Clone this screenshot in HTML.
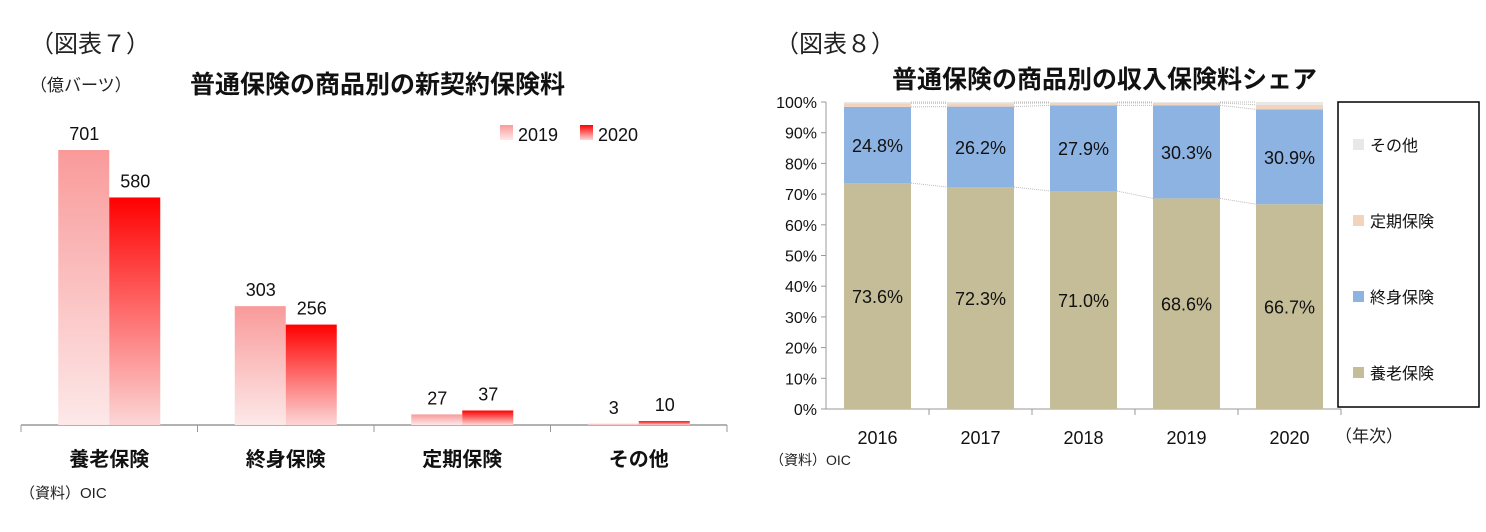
<!DOCTYPE html>
<html><head><meta charset="utf-8"><style>
body{margin:0;background:#fff;width:1486px;height:527px;overflow:hidden;font-family:"Liberation Sans","Noto Sans CJK JP",sans-serif;}
svg text{font-family:"Liberation Sans","Noto Sans CJK JP",sans-serif;}
</style></head><body>
<svg width="1486" height="527">
<defs>
<linearGradient id="g19" x1="0" y1="1" x2="0" y2="0"><stop offset="0" stop-color="#fde8e8"/><stop offset="1" stop-color="#f99a9a"/></linearGradient>
<linearGradient id="g20" x1="0" y1="1" x2="0" y2="0"><stop offset="0" stop-color="#fcd6d6"/><stop offset="1" stop-color="#ff0000"/></linearGradient>
</defs>
<g id="c1">
<text x="30" y="52" font-size="24" fill="#222" font-family="Liberation Serif,Noto Serif CJK SC,serif">（図表７）</text>
<text x="30" y="91" font-size="17" fill="#222">（億バーツ）</text>
<text x="190" y="93" font-size="25" font-weight="bold" fill="#111">普通保険の商品別の新契約保険料</text>
<rect x="500" y="125" width="13" height="15" fill="url(#g19)"/>
<text x="518" y="141" font-size="18" fill="#111">2019</text>
<rect x="580" y="125" width="13" height="15" fill="url(#g20)"/>
<text x="598" y="141" font-size="18" fill="#111">2020</text>
<text x="20" y="498" font-size="15" fill="#222">（資料）OIC</text>
</g>
<g id="c2">
<text x="775" y="52" font-size="24" fill="#222" font-family="Liberation Serif,Noto Serif CJK SC,serif">（図表８）</text>
<text x="892" y="88" font-size="25" font-weight="bold" fill="#111">普通保険の商品別の収入保険料シェア</text>
<text x="1335" y="442" font-size="17" fill="#222">（年次）</text>
<text x="770" y="465" font-size="14" fill="#222">（資料）OIC</text>
<rect x="1338" y="102" width="141" height="305" fill="#fff" stroke="#000" stroke-width="1.5"/>
</g>
</svg>
<script>
const ns="http://www.w3.org/2000/svg";
function mk(p,t,a,txt){const e=document.createElementNS(ns,t);for(const k in a)e.setAttribute(k,a[k]);if(txt!==undefined)e.textContent=txt;document.getElementById(p).appendChild(e);return e;}
// Chart 7 data
const cats7=["養老保険","終身保険","定期保険","その他"];
const v2019=[701,303,27,3];
const v2020=[580,256,37,10];
// Chart 8 data
const years=["2016","2017","2018","2019","2020"];
const endow=[73.6,72.3,71.0,68.6,66.7];
const whole=[24.8,26.2,27.9,30.3,30.9];
const term=[1.2,1.1,0.8,0.8,1.5];
const other=[0.4,0.4,0.3,0.3,0.9];
const ticks8=[0,10,20,30,40,50,60,70,80,90,100];

// chart 7 axes
const base7=425,x07=21,cw7=176.5,k7=275/701;
const y7=v=>base7-v*k7;
let e=mk("c1","line",{x1:x07,y1:base7,x2:x07+cw7*4,y2:base7,stroke:"#999","stroke-width":1.5});


cats7.forEach((c,i)=>{
 const cx=x07+cw7*i+cw7/2;
 let t=mk("c1","line",{x1:x07+cw7*i,y1:base7,x2:x07+cw7*i,y2:base7+7,stroke:"#999"});
 
 
 let r=mk("c1","rect",{x:cx-51,y:y7(v2019[i]),width:51,height:base7-y7(v2019[i]),fill:"url(#g19)"});
 
 
 let r2=mk("c1","rect",{x:cx,y:y7(v2020[i]),width:51,height:base7-y7(v2020[i]),fill:"url(#g20)"});
 
 
 let l=mk("c1","text",{x:cx-25,y:y7(v2019[i])-10,"font-size":18,"text-anchor":"middle",fill:"#111"},String(v2019[i]));
 
 
 let l2=mk("c1","text",{x:cx+26,y:y7(v2020[i])-10,"font-size":18,"text-anchor":"middle",fill:"#111"},String(v2020[i]));
 
 
 let cl=mk("c1","text",{x:cx,y:466,"font-size":20,"font-weight":"bold","text-anchor":"middle",fill:"#111"},c);
 
 
});
let t7=mk("c1","line",{x1:x07+cw7*4,y1:base7,x2:x07+cw7*4,y2:base7+7,stroke:"#999"});



// chart 8
const base8=409,top8=102,x08=826,cw8=103,bw=67;
const y8=v=>base8-(base8-top8)*v/100;
const ax=mk("c2","line",{x1:x08,y1:top8,x2:x08,y2:base8,stroke:"#999"});


const bx=mk("c2","line",{x1:x08,y1:base8,x2:x08+cw8*5,y2:base8,stroke:"#999"});


ticks8.forEach(v=>{
 let tl=mk("c2","text",{x:x08-9,y:y8(v)+6,"font-size":16,"text-anchor":"end",fill:"#111"},v+"%");
 
 
 let tk=mk("c2","line",{x1:x08-5,y1:y8(v),x2:x08,y2:y8(v),stroke:"#999"});
 
 
});
const series=[[endow,"#c4bd97","endowment"],[whole,"#8db3e2","whole-life"],[term,"#f2d3bc","term"],[other,"#e8e8e8","other"]];
years.forEach((yr,i)=>{
 const bx0=x08+cw8*i+(cw8-bw)/2;
 let cum=0;
 series.forEach(([arr,col,nm],s)=>{
  const r=mk("c2","rect",{x:bx0,y:y8(cum+arr[i]),width:bw,height:y8(cum)-y8(cum+arr[i]),fill:col});
  
  
  if(i<years.length-1){
   const c2=cum+arr[i], n2=series.slice(0,s+1).reduce((a,q)=>a+q[0][i+1],0);
   const ln=mk("c2","line",{x1:bx0+bw,y1:y8(c2),x2:bx0+cw8,y2:y8(n2),stroke:"#bbb","stroke-dasharray":"1,1"});
   
   
  }
  if(s<2){
   const lb=mk("c2","text",{x:bx0+bw/2,y:(y8(cum)+y8(cum+arr[i]))/2+7,"font-size":18,"text-anchor":"middle",fill:"#111"},arr[i].toFixed(1)+"%");
   
   
  }
  cum+=arr[i];
 });
 const xl=mk("c2","text",{x:bx0+bw/2,y:444,"font-size":18,"text-anchor":"middle",fill:"#111"},yr);
 
 
 const tk=mk("c2","line",{x1:x08+cw8*(i+1),y1:base8,x2:x08+cw8*(i+1),y2:base8+6,stroke:"#999"});
 
 
});
const leg=[["その他","#e8e8e8",145],["定期保険","#f2d3bc",221],["終身保険","#8db3e2",297],["養老保険","#c4bd97",373]];
leg.forEach(([n,c,y])=>{
 const s=mk("c2","rect",{x:1353,y:y-6,width:11,height:11,fill:c});
 
 
 const t=mk("c2","text",{x:1370,y:y+6,"font-size":16,fill:"#111"},n);
 
 
});
</script>
</body></html>
